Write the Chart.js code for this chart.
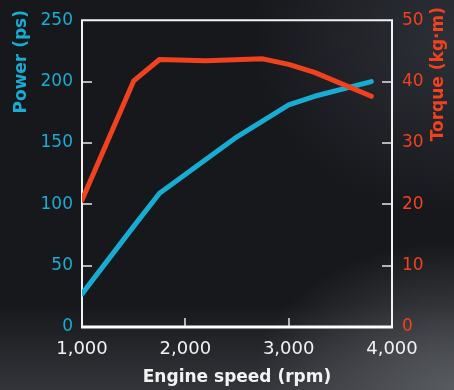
<!DOCTYPE html>
<html lang="en">
<head>
<meta charset="UTF-8">
<title>Power and torque</title>
<script src="https://cdn.jsdelivr.net/npm/chart.js@4.4.1/dist/chart.umd.min.js"></script>
<style>
  html, body { margin: 0; padding: 0; }
  body {
    width: 454px; height: 390px; overflow: hidden;
    background:
      radial-gradient(ellipse 45% 38% at 100% 100%, rgba(92,95,100,0.9), rgba(92,95,100,0) 100%),
      linear-gradient(to bottom, rgba(60,62,67,0) 78%, rgba(60,62,67,0.75) 100%),
      radial-gradient(ellipse 45% 45% at 100% 10%, rgba(50,54,62,0.8), rgba(50,54,62,0) 100%),
      #17181c;
  }
  .wrap { position: relative; width: 454px; height: 390px; }
  canvas { display: block; }
</style>
</head>
<body>
<div class="wrap"><canvas id="chart" width="454" height="390"></canvas></div>
<script>
  // engine speed (rpm) / values
  const powerRpm = [1000, 1500, 1750, 2500, 3000, 3250, 3800];
  const powerPs = [27, 82, 109, 155, 181, 188, 200];
  const torqueRpm = [1000, 1500, 1750, 2200, 2750, 3000, 3250, 3800];
  const torqueKgm = [20.7, 40.1, 43.6, 43.4, 43.7, 42.8, 41.5, 37.6];

  const xTicks = [1000, 2000, 3000, 4000];
  const powerTicks = [0, 50, 100, 150, 200, 250];
  const torqueTicks = [0, 10, 20, 30, 40, 50];

  const blue = '#19acd3';
  const red = '#f0421f';
  const tickFont = { family: 'DejaVu Sans', size: 17 };
  const titleFont = { family: 'DejaVu Sans', size: 17, weight: 'bold' };

  // box round the plot and the short inner tick marks
  const frame = {
    id: 'frame',
    beforeDatasetsDraw(chart) {
      const { ctx, chartArea: a, scales } = chart;
      ctx.save();
      ctx.strokeStyle = '#b4b4b4';
      ctx.lineWidth = 2;
      ctx.beginPath();
      powerTicks.slice(1, -1).forEach(v => {
        const y = Math.round(scales.y.getPixelForValue(v));
        ctx.moveTo(a.left, y); ctx.lineTo(a.left + 10, y);
      });
      torqueTicks.slice(1, -1).forEach(v => {
        const y = Math.round(scales.y1.getPixelForValue(v));
        ctx.moveTo(a.right, y); ctx.lineTo(a.right - 10, y);
      });
      xTicks.slice(1, -1).forEach(v => {
        const x = Math.round(scales.x.getPixelForValue(v));
        ctx.moveTo(x, a.bottom); ctx.lineTo(x, a.bottom - 9);
      });
      ctx.stroke();

      ctx.strokeStyle = '#f2f2f2';
      ctx.lineWidth = 2;
      ctx.beginPath();
      ctx.moveTo(a.left, a.bottom);
      ctx.lineTo(a.left, a.top);
      ctx.lineTo(a.right, a.top);
      ctx.lineTo(a.right, a.bottom);
      ctx.stroke();
      ctx.lineWidth = 3;
      ctx.strokeStyle = '#ffffff';
      ctx.beginPath();
      ctx.moveTo(a.left - 1, a.bottom);
      ctx.lineTo(a.right + 1, a.bottom);
      ctx.stroke();

      // vertical axis titles, both read upward and sit at the top
      ctx.font = 'bold 17px "DejaVu Sans"';
      ctx.textBaseline = 'middle';
      ctx.textAlign = 'right';
      ctx.fillStyle = blue;
      ctx.save();
      ctx.translate(22, 10);
      ctx.rotate(-Math.PI / 2);
      ctx.fillText('Power (ps)', 0, 0);
      ctx.restore();
      ctx.fillStyle = red;
      ctx.translate(439, 7);
      ctx.rotate(-Math.PI / 2);
      ctx.fillText('Torque (kg·m)', 0, 0);
      ctx.restore();
    }
  };

  const lineStyle = {
    borderWidth: 5,
    pointRadius: 0,
    borderCapStyle: 'round',
    borderJoinStyle: 'round',
    tension: 0,
    fill: false
  };

  new Chart(document.getElementById('chart'), {
    type: 'line',
    data: {
      datasets: [{
        label: 'Torque (kg·m)',
        data: torqueRpm.map((r, i) => ({ x: r, y: torqueKgm[i] })),
        borderColor: red,
        yAxisID: 'y1',
        ...lineStyle
      }, {
        label: 'Power (ps)',
        data: powerRpm.map((r, i) => ({ x: r, y: powerPs[i] })),
        borderColor: blue,
        yAxisID: 'y',
        ...lineStyle
      }]
    },
    options: {
      responsive: false,
      animation: false,
      layout: { padding: { top: 17, left: 0, right: 0, bottom: 0 } },
      plugins: { legend: { display: false }, tooltip: { enabled: false } },
      scales: {
        x: {
          type: 'linear',
          min: 1000,
          max: 4000,
          afterFit: s => { s.height = 63; },
          afterBuildTicks: s => { s.ticks = xTicks.map(v => ({ value: v })); },
          grid: { display: false, drawTicks: false },
          border: { display: false },
          ticks: {
            color: '#f2f2f2',
            font: { family: 'DejaVu Sans', size: 18 },
            padding: 12,
            maxRotation: 0,
            autoSkip: false,
            callback: v => v.toLocaleString('en-US')
          },
          title: {
            display: true,
            text: 'Engine speed (rpm)',
            color: '#f2f2f2',
            font: titleFont,
            padding: { top: 0, bottom: 2 }
          }
        },
        y: {
          position: 'left',
          min: 0,
          max: 250,
          afterFit: s => { s.width = 82; },
          afterBuildTicks: s => { s.ticks = powerTicks.map(v => ({ value: v })); },
          grid: { display: false, drawTicks: false },
          border: { display: false },
          ticks: { color: blue, font: tickFont, padding: 9, autoSkip: false }
        },
        y1: {
          position: 'right',
          min: 0,
          max: 50,
          afterFit: s => { s.width = 62; },
          afterBuildTicks: s => { s.ticks = torqueTicks.map(v => ({ value: v })); },
          grid: { display: false, drawTicks: false },
          border: { display: false },
          ticks: { color: red, font: tickFont, padding: 10, autoSkip: false }
        }
      }
    },
    plugins: [frame]
  });
</script>
</body>
</html>
